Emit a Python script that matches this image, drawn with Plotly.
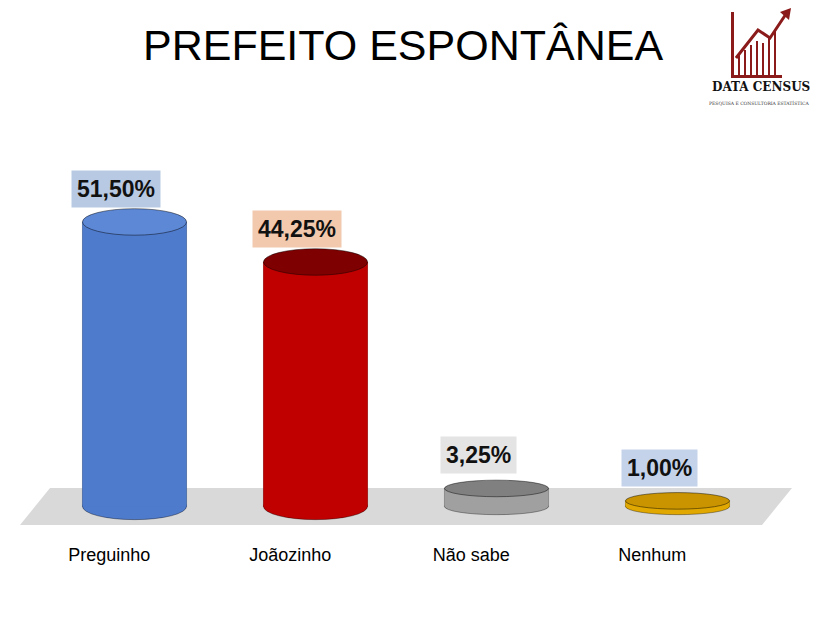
import plotly.graph_objects as go

categories = ["Preguinho", "Joãozinho", "Não sabe", "Nenhum"]
values = [51.50, 44.25, 3.25, 1.00]
labels = ["51,50%", "44,25%", "3,25%", "1,00%"]
body_colors = ["#4f7bcc", "#c00000", "#a0a0a0", "#e0a800"]
top_colors = ["#5d88d6", "#7f0000", "#808080", "#c99400"]
box_colors = ["#b8c9e3", "#f2c9ad", "#e4e4e4", "#c5d3ea"]

W = 0.575   # cylinder width (category units)
RY = 2.4    # ellipse half-height (value units)

OFF = 8
FW, FH = 818, 629
L, R, T, B = 36, 58, 167, 103
PW, PH = FW - L - R, FH - T - B


def px(x):
    return (x - OFF - L) / PW


def py(y):
    return (FH - B - (y - OFF)) / PH


fig = go.Figure()
fig.add_trace(go.Bar(x=list(range(4)), y=values, width=W, marker_color=body_colors,
                     marker_line=dict(color="rgba(0,0,0,0.35)", width=1), hoverinfo="skip"))

shapes = [dict(type="path", xref="paper", yref="paper", layer="below",
               path=f"M {px(20)},{py(525)} L {px(50)},{py(488)} L {px(792)},{py(488)} L {px(762)},{py(525)} Z",
               fillcolor="#d9d9d9", line=dict(width=0))]
ann = []
for i, v in enumerate(values):
    ry = RY if v > 5 else 1.5
    shapes.append(dict(type="circle", xref="x", yref="y", x0=i - W / 2, x1=i + W / 2,
                       y0=-ry, y1=ry, fillcolor=body_colors[i],
                       line=dict(color="rgba(0,0,0,0.35)", width=1)))
    shapes.append(dict(type="rect", xref="x", yref="y", x0=i - W / 2, x1=i + W / 2,
                       y0=0, y1=v, fillcolor=body_colors[i],
                       line=dict(width=0)))
    shapes.append(dict(type="circle", xref="x", yref="y", x0=i - W / 2, x1=i + W / 2,
                       y0=v - ry, y1=v + ry, fillcolor=top_colors[i],
                       line=dict(color="rgba(0,0,0,0.45)", width=1)))
    ann.append(dict(x=i - 0.1, y=v + 6, xref="x", yref="y", text="<b>" + labels[i] + "</b>",
                    showarrow=False, bgcolor=box_colors[i], borderpad=5,
                    font=dict(family="Arial", size=23, color="#111")))

# logo
shapes.append(dict(type="rect", xref="paper", yref="paper", x0=px(731), x1=px(734),
                   y0=py(78), y1=py(12), fillcolor="#8b1a1a", line=dict(width=0)))
shapes.append(dict(type="rect", xref="paper", yref="paper", x0=px(731), x1=px(782),
                   y0=py(78), y1=py(75), fillcolor="#8b1a1a", line=dict(width=0)))
for k, h in enumerate([20, 25, 30, 34, 32, 38, 45]):
    x = 739 + k * 6
    shapes.append(dict(type="line", xref="paper", yref="paper", x0=px(x), x1=px(x),
                       y0=py(75), y1=py(75 - h), line=dict(color="#8b1a1a", width=2)))
shapes.append(dict(type="path", xref="paper", yref="paper",
                   path=f"M {px(736)},{py(58)} L {px(758)},{py(30)} L {px(770)},{py(38)} L {px(786)},{py(14)}",
                   line=dict(color="#8b1a1a", width=3)))
shapes.append(dict(type="path", xref="paper", yref="paper",
                   path=f"M {px(780)},{py(12)} L {px(791)},{py(8)} L {px(789)},{py(20)} Z",
                   fillcolor="#8b1a1a", line=dict(width=0)))
ann.append(dict(x=px(761), y=py(87), xref="paper", yref="paper", text="<b>DATA CENSUS</b>",
                xanchor="center", yanchor="middle",
                showarrow=False, font=dict(family="DejaVu Serif", size=12, color="#111")))
ann.append(dict(x=px(759), y=py(103), xref="paper", yref="paper",
                text="PESQUISA E CONSULTORIA ESTATÍSTICA", xanchor="center", yanchor="middle",
                showarrow=False, font=dict(family="DejaVu Serif", size=4.5, color="#333")))
ann.append(dict(x=px(403), y=py(45), xref="paper", yref="paper", text="PREFEITO ESPONTÂNEA",
                xanchor="center", yanchor="middle",
                showarrow=False, font=dict(family="Liberation Sans Narrow, Arial", size=43, color="#000")))

fig.update_layout(
    width=FW, height=FH, margin=dict(l=L, r=R, t=T, b=B),
    paper_bgcolor="white", plot_bgcolor="rgba(0,0,0,0)", showlegend=False,
    shapes=shapes, annotations=ann,
    xaxis=dict(range=[-0.5, 3.5], tickvals=[i - 0.14 for i in range(4)], ticktext=categories,
               showgrid=False, zeroline=False, showline=False, ticks="",
               ticklabelstandoff=8,
               tickfont=dict(family="Arial", size=18, color="#000")),
    yaxis=dict(range=[-5, 60], visible=False),
)
fig.write_html("out.html")
